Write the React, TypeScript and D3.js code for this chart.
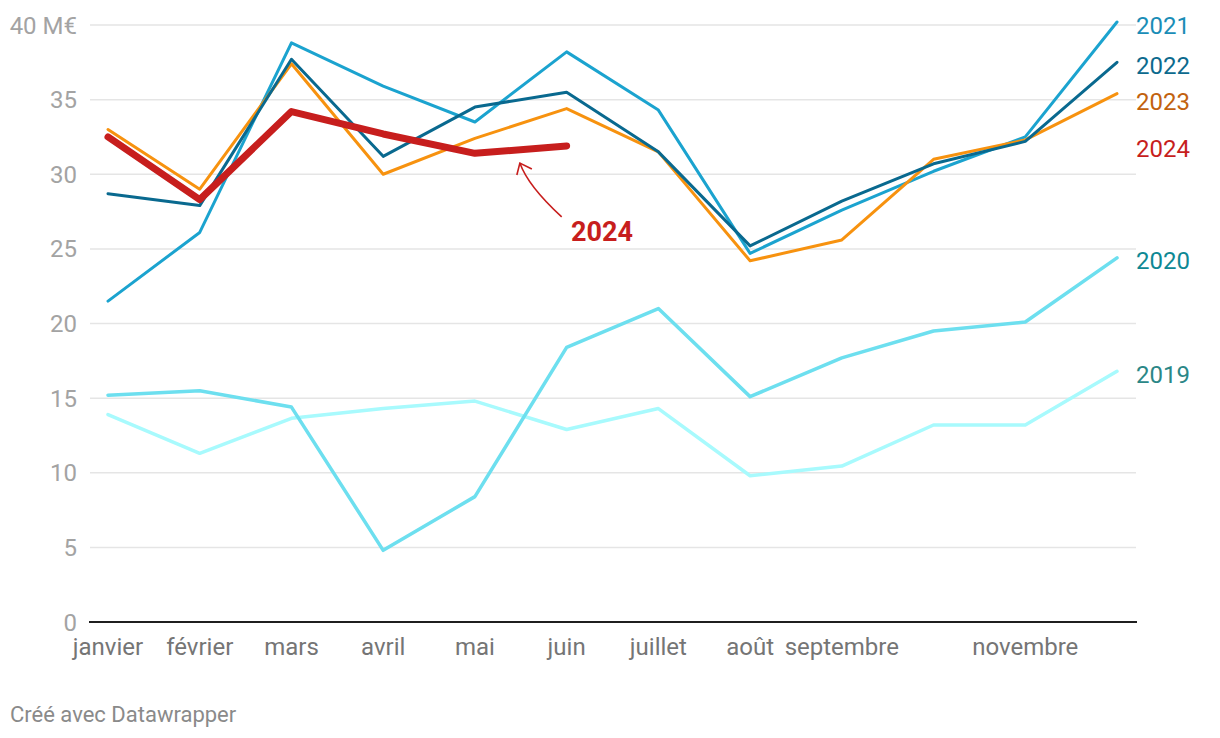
import React, { useEffect, useRef } from "react";
import * as d3 from "d3";

const months = [
  "janvier", "février", "mars", "avril", "mai", "juin",
  "juillet", "août", "septembre", "octobre", "novembre", "décembre",
];
// months that get a label on the x axis
const monthLabels = [
  "janvier", "février", "mars", "avril", "mai", "juin",
  "juillet", "août", "septembre", "novembre",
];
const yTicks = [0, 5, 10, 15, 20, 25, 30, 35, 40];

// values in M€
const y2019 = [13.9, 11.3, 13.65, 14.3, 14.8, 12.9, 14.3, 9.8, 10.45, 13.2, 13.2, 16.8];
const y2020 = [15.2, 15.5, 14.4, 4.8, 8.4, 18.4, 21.0, 15.1, 17.7, 19.5, 20.1, 24.4];
const y2021 = [21.5, 26.1, 38.8, 35.9, 33.5, 38.2, 34.3, 24.7, 27.6, 30.2, 32.5, 40.2];
const y2022 = [28.7, 27.9, 37.7, 31.2, 34.5, 35.5, 31.5, 25.2, 28.2, 30.7, 32.2, 37.5];
const y2023 = [33.0, 29.0, 37.4, 30.0, 32.4, 34.4, 31.5, 24.2, 25.6, 31.0, 32.3, 35.4];
const y2024 = [32.5, 28.3, 34.2, 32.7, 31.4, 31.9];

const series = [
  { name: "2019", values: y2019, color: "#a8fafd", label: "#2b8787", width: 3.5 },
  { name: "2020", values: y2020, color: "#6ddfef", label: "#0e8894", width: 3.5 },
  { name: "2021", values: y2021, color: "#1ba3cf", label: "#1a8db7", width: 3 },
  { name: "2023", values: y2023, color: "#f7920f", label: "#c2620e", width: 3 },
  { name: "2022", values: y2022, color: "#09698f", label: "#0c6a8e", width: 3 },
  { name: "2024", values: y2024, color: "#c71e1d", label: "#c71e1d", width: 7 },
];

export default function App() {
  const ref = useRef<SVGSVGElement>(null);

  useEffect(() => {
    const width = 1220;
    const height = 738;
    const font = "Roboto, sans-serif";

    const svg = d3.select(ref.current);
    svg.selectAll("*").remove();

    const x = d3.scalePoint<string>().domain(months).range([108, 1117]);
    const xi = d3.scaleLinear().domain([0, months.length - 1]).range([108, 1117]);
    const y = d3.scaleLinear().domain([0, 40]).range([622, 25]);

    // grid
    svg
      .append("g")
      .selectAll("line")
      .data(yTicks.filter((t) => t > 0))
      .join("line")
      .attr("x1", 90)
      .attr("x2", 1136)
      .attr("y1", (d) => y(d))
      .attr("y2", (d) => y(d))
      .attr("stroke", "#e5e5e5")
      .attr("stroke-width", 1.5);

    svg
      .append("g")
      .selectAll("text")
      .data(yTicks)
      .join("text")
      .attr("x", 77)
      .attr("y", (d) => y(d) + 8.5)
      .attr("text-anchor", "end")
      .attr("font-family", font)
      .attr("font-size", 24)
      .attr("fill", "#a3a3a3")
      .text((d) => (d === 40 ? "40 M€" : String(d)));

    // baseline
    svg
      .append("line")
      .attr("x1", 89)
      .attr("x2", 1137)
      .attr("y1", y(0))
      .attr("y2", y(0))
      .attr("stroke", "#1f1f1f")
      .attr("stroke-width", 2);

    svg
      .append("g")
      .selectAll("text")
      .data(monthLabels)
      .join("text")
      .attr("x", (d) => x(d)!)
      .attr("y", 655)
      .attr("text-anchor", "middle")
      .attr("font-family", font)
      .attr("font-size", 24)
      .attr("fill", "#757575")
      .text((d) => d);

    const line = d3
      .line<number>()
      .x((_, i) => x(months[i])!)
      .y((d) => y(d));

    svg
      .append("g")
      .selectAll("path")
      .data(series)
      .join("path")
      .attr("fill", "none")
      .attr("stroke", (d) => d.color)
      .attr("stroke-width", (d) => d.width)
      .attr("stroke-linejoin", "round")
      .attr("stroke-linecap", "round")
      .attr("d", (d) => line(d.values));

    // right labels, nudged apart
    const labels = series
      .map((s) => ({ s, ly: y(s.values[s.values.length - 1]) }))
      .sort((a, b) => a.ly - b.ly);
    for (let i = 1; i < labels.length; i++) {
      labels[i].ly = Math.max(labels[i].ly, labels[i - 1].ly + 36);
    }
    svg
      .append("g")
      .selectAll("text")
      .data(labels)
      .join("text")
      .attr("x", 1136)
      .attr("y", (d) => d.ly + 3 + 8.5)
      .attr("font-family", font)
      .attr("font-size", 24)
      .attr("fill", (d) => d.s.label)
      .text((d) => d.s.name);

    // annotation
    const tip = [xi(4.49), y(30.75)];
    const tail = [xi(4.946), y(27.14)];
    const ctrl = [xi(4.58), y(29.2)];
    const ann = svg.append("g").attr("stroke", "#c71e1d").attr("fill", "none").attr("stroke-width", 1.6);
    ann
      .append("path")
      .attr("d", `M${tail[0]},${tail[1]} Q${ctrl[0]},${ctrl[1]} ${tip[0]},${tip[1]}`);
    ann
      .append("path")
      .attr("stroke-linejoin", "miter")
      .attr("d", `M${tip[0] - 3},${tip[1] + 12} L${tip[0]},${tip[1]} L${tip[0] + 12},${tip[1] + 6}`);
    svg
      .append("text")
      .attr("x", xi(5.047))
      .attr("y", y(25.53))
      .attr("font-family", font)
      .attr("font-size", 27)
      .attr("font-weight", 700)
      .attr("fill", "#c71e1d")
      .text("2024");

    svg
      .append("text")
      .attr("x", 10)
      .attr("y", 722)
      .attr("font-family", font)
      .attr("font-size", 22)
      .attr("fill", "#8a8a8a")
      .text("Créé avec Datawrapper");

    svg.attr("width", width).attr("height", height);
  }, []);

  return (
    <svg
      ref={ref}
      width={1220}
      height={738}
      style={{ position: "absolute", left: 0, top: 0, background: "#fff" }}
    />
  );
}
